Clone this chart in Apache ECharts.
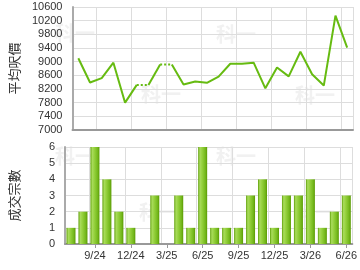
<!DOCTYPE html>
<html><head><meta charset="utf-8">
<script src="https://cdn.jsdelivr.net/npm/echarts@6/dist/echarts.min.js"></script>
<style>html,body{margin:0;padding:0;background:#fff}#c{width:360px;height:270px}</style>
</head><body><div id="c"></div>
<script>
const months = ['7/24','8/24','9/24','10/24','11/24','12/24','1/25','2/25','3/25','4/25','5/25','6/25','7/25','8/25','9/25','10/25','11/25','12/25','1/26','2/26','3/26','4/26','5/26','6/26'];
const avgPrice = [9100,8390,8520,8970,7800,8320,null,8920,null,8330,8420,8380,8560,8940,8940,8970,8220,8830,8570,9290,8630,8300,10350,9410];
const deals = [1,2,6,4,2,1,0,3,0,3,1,6,1,1,1,3,4,1,3,3,4,1,2,3];
const priceTicks = [7000,7400,7800,8200,8600,9000,9400,9800,10200,10600];
const dealTicks = [0,1,2,3,4,5,6];

const FONT = 'Liberation Sans, Arial, sans-serif';
const CJK = 'Noto Sans CJK TC, sans-serif';
const GREEN = '#66bb11';

// carry forward months without transactions (drawn dotted)
const filled = []; let last = null;
avgPrice.forEach(v => { if (v != null) last = v; filled.push(last); });
const runs = [];
for (let i = 0; i < filled.length - 1; i++) {
  const dotted = avgPrice[i + 1] == null;
  const r = runs[runs.length - 1];
  if (r && r.dotted === dotted && r.end === i) r.end = i + 1;
  else runs.push({dotted, start: i, end: i + 1});
}
const lineSeries = runs.map(r => ({
  type: 'line', xAxisIndex: 0, yAxisIndex: 0, showSymbol: false, silent: true,
  data: filled.map((v, j) => (j >= r.start && j <= r.end) ? v : '-'),
  lineStyle: {color: GREEN, width: 2, type: r.dotted ? [2, 2] : 'solid', cap: 'butt'},
  z: 3
}));

const showIdx = i => i % 3 === 2;
const xCommon = (grid, labels) => ({
  type: 'category', gridIndex: grid, data: months, boundaryGap: true,
  axisLine: {lineStyle: {color: '#999', width: 2}},
  axisTick: {show: labels, interval: (i) => showIdx(i), alignWithLabel: true, length: 4, lineStyle: {color: '#999'}},
  axisLabel: {show: labels, interval: (i) => showIdx(i), color: '#333', fontSize: 11, fontFamily: FONT, margin: 6},
  splitLine: {show: true, interval: (i) => showIdx(i), lineStyle: {color: '#ddd', width: 1}}
});

const wm = (x, y) => ({type: 'text', left: x - 21, top: y - 11, z: -10, silent: true,
  style: {text: '科一', fill: '#f1f1f1', font: 'bold 20px ' + CJK}});

const chart = echarts.init(document.getElementById('c'), null, {renderer: 'canvas'});
chart.setOption({
  animation: false,
  backgroundColor: '#fff',
  graphic: [wm(76, 34), wm(237, 35), wm(162, 95), wm(316, 96), wm(76, 157), wm(237, 157), wm(160, 213), wm(316, 213)],
  grid: [
    {left: 65, right: 7, top: 7, height: 123},
    {left: 65, right: 7, top: 147, height: 97}
  ],
  xAxis: [xCommon(0, false), xCommon(1, true)],
  yAxis: [
    {type: 'value', gridIndex: 0, min: 7000, max: 10600, interval: 200,
     name: '平均呎價', nameLocation: 'middle', nameGap: 44, nameRotate: 90,
     nameTextStyle: {fontSize: 13, fontFamily: CJK, color: '#333'},
     axisLine: {show: true, lineStyle: {color: '#aaa', width: 2}},
     axisTick: {show: false},
     axisLabel: {color: '#333', fontSize: 11, fontFamily: FONT, margin: 10,
       formatter: v => priceTicks.includes(v) ? String(v) : ''},
     splitLine: {show: true, lineStyle: {color: ['#ddd', 'rgba(0,0,0,0)'], width: 1}}},
    {type: 'value', gridIndex: 1, min: 0, max: 6, interval: 1,
     name: '成交宗數', nameLocation: 'middle', nameGap: 44, nameRotate: 90,
     nameTextStyle: {fontSize: 13, fontFamily: CJK, color: '#333'},
     axisLine: {show: true, lineStyle: {color: '#aaa', width: 2}},
     axisTick: {show: false},
     axisLabel: {color: '#333', fontSize: 11, fontFamily: FONT, margin: 10,
       formatter: v => dealTicks.includes(v) ? String(v) : ''},
     splitLine: {show: true, lineStyle: {color: '#ddd', width: 1}}}
  ],
  series: lineSeries.concat([{
    type: 'bar', xAxisIndex: 1, yAxisIndex: 1, data: deals, barWidth: 9, silent: true,
    itemStyle: {
      color: new echarts.graphic.LinearGradient(0, 0, 1, 0, [
        {offset: 0, color: '#5f9f08'},
        {offset: 0.2, color: '#a9dc5c'},
        {offset: 0.45, color: '#94d03c'},
        {offset: 0.8, color: '#74b81c'},
        {offset: 1, color: '#5a9a04'}
      ])
    }
  }])
});
</script></body></html>
